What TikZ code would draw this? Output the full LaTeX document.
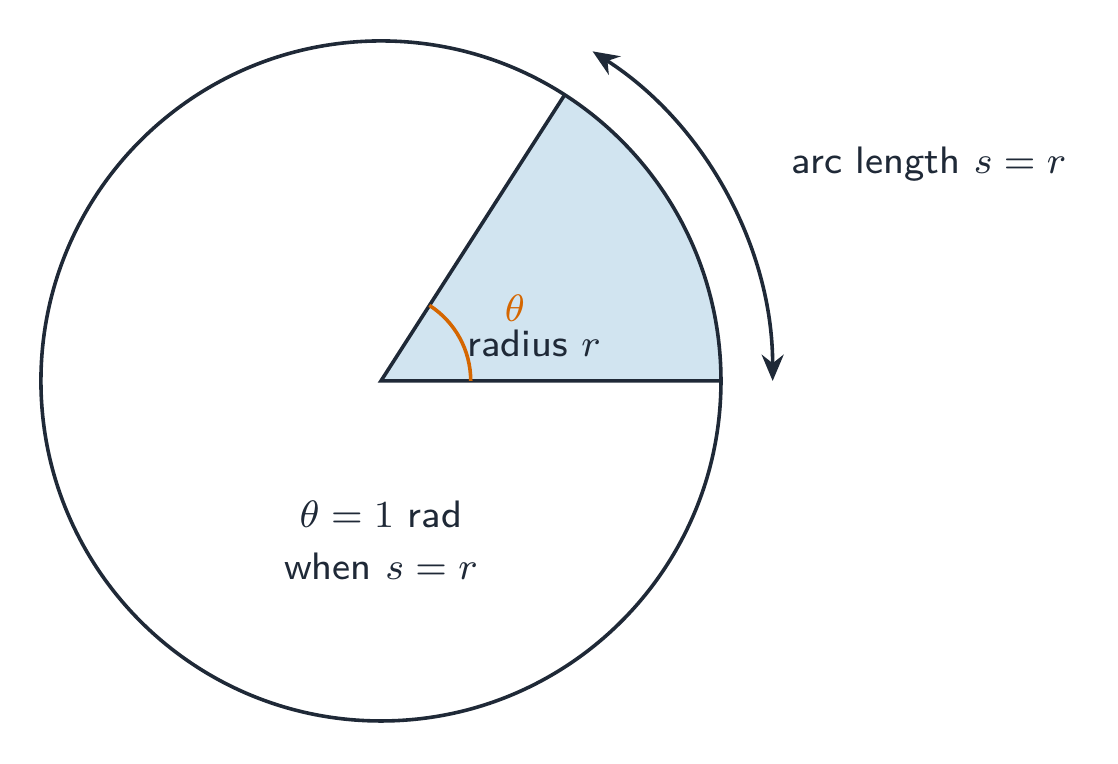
\documentclass[tikz,border=0pt]{standalone}
\usetikzlibrary{arrows.meta}
\definecolor{ink}{HTML}{1F2937}
\definecolor{sectorfill}{HTML}{D1E4F0}
\definecolor{angc}{RGB}{213,102,0}
\tikzset{
  outline/.style={draw=ink, line width=0.75pt},
  lbl/.style={text=ink, font=\sffamily\fontsize{8}{10}\selectfont, inner sep=0pt, anchor=base},
  arcarrow/.style={draw=ink, line width=0.75pt, {Stealth[length=5.5pt,width=4.6pt,inset=1.8pt]}-{Stealth[length=5.5pt,width=4.6pt,inset=1.8pt]}},
}
\begin{document}
\begin{tikzpicture}
\useasboundingbox (-2.801,-2.816) rectangle (5.419,2.801);
\coordinate (O) at (0,0);
\coordinate (A) at (2.5,0);
\coordinate (B) at ({deg(1)}:2.5);
\coordinate (Ain) at (0.66,0);
\coordinate (Aout) at (2.88,0);
\coordinate (Bout) at ({deg(1)}:2.88);
% sector
\fill[sectorfill] (O) -- (A) arc[start angle=0, end angle={deg(1)}, radius=2.5] -- cycle;
% circle
\draw[outline] (O) circle[radius=2.5];
% radii
\draw[outline] (A) -- (O) -- (B);
% angle arc
\draw[draw=angc, line width=0.75pt] (Ain) arc[start angle=0, end angle={deg(1)}, radius=0.66];
% arc length arrow
\draw[arcarrow] (Aout) arc[start angle=0, end angle={deg(1)}, radius=2.88];
% labels
\node[lbl] (arclen) at (4.03,1.522) {arc length $s=r$};
\node[lbl, text=angc] (th) at (0.985,0.434) {$\theta$};
\node[lbl] (rad) at (1.125,0.177) {radius $r$};
\node[lbl] (eq1) at (0,-1.074) {$\theta=1$ rad};
\node[lbl] (eq2) at (0,-1.46) {when $s=r$};
\end{tikzpicture}
\end{document}
